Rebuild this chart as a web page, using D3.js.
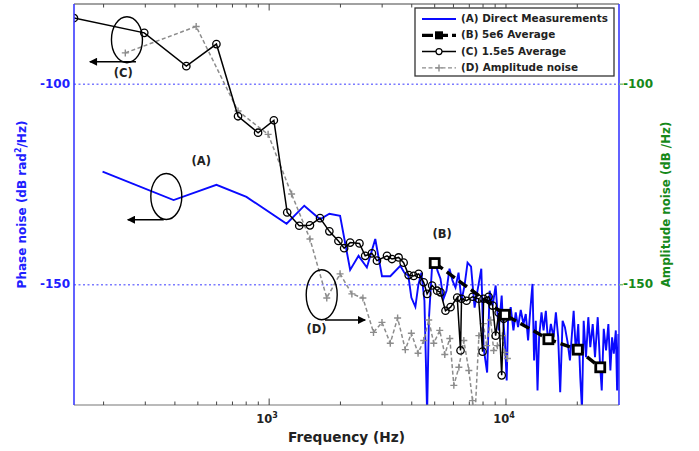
<!DOCTYPE html>
<html lang="en">
<head>
<meta charset="UTF-8">
<script src="https://d3js.org/d3.v7.min.js"></script>
<style>
    body { margin: 0; background: #fff; }
    svg { display: block; font-family: "DejaVu Sans", sans-serif; font-weight: bold; }
</style>
</head>
<body>
<div id="chart"></div>
<script>
// (A) direct measurements: [frequency Hz, phase noise dB rad^2/Hz]
const directMeas = [
    [198,-121.8],[395,-128.9],[599,-125.1],[802,-128.1],[1185,-134.8],[1407,-130.3],
    [1640,-133.7],[1796,-132.3],[1993,-132.8],[2198,-146.3],[2385,-142.8],[2586,-145.7],
    [2806,-138.6],[2995,-147.9],[3247,-147.9],[3579,-145.3],[3722,-147.0],[3870,-147.8],
    [3985,-153.2],[4144,-155.5],[4267,-150.0],[4394,-147.0],[4525,-154.0],[4645,-182],
    [4727,-158.5],[4867,-146.0],[5003,-143.5],[5136,-146.5],[5289,-148.5],[5445,-153.5],
    [5607,-151.5],[5774,-146.0],[5946,-149.0],[6121,-150.7],[6304,-147.0],[6491,-154.0],
    [6683,-150.2],[6882,-144.5],[7120,-145.5],[7369,-155.7],[7866,-146.0],[8043,-165.7],
    [8324,-171.9],[8530,-151.5],[8782,-155.2],[9043,-150.2],[9313,-161.4],[9590,-152.7],
    [9654,-156.5],[9874,-163.1],[10069,-173.9],[10197,-159.0],[10469,-155.6],[10750,-161.4],
    [10993,-156.9],[11243,-160.6],[11543,-156.3],[11851,-159.8],[12120,-157.3],[12397,-163.9],
    [12641,-156.9],[12938,-149.8],[13140,-168.9],[13360,-159.0],[13586,-176.4],[13800,-163.1],
    [14125,-156.9],[14405,-161.4],[14731,-156.5],[15066,-164.8],[15468,-159.8],[15880,-163.1],
    [16242,-156.9],[16609,-163.1],[16937,-176.8],[17338,-159.0],[17732,-160.6],[18205,-164.4],
    [18620,-168.9],[18987,-162.3],[19305,-156.5],[19735,-167.2],[20186,-159.8],[20585,-173.1],
    [20930,-181],[21281,-159.0],[21763,-168.1],[22259,-158.1],[22695,-165.6],[23234,-159.8],
    [23759,-168.1],[24396,-158.1],[24946,-169.7],[25365,-176.4],[25866,-161.0],[26454,-166.4],
    [27055,-159.8],[27589,-171.4],[28052,-163.1],[28521,-167.2],[29085,-161.4],[29453,-176.4],
    [29828,-162.3],[30300,-181]
];

// (B) 5e6 average
const avg5e6 = [[5000,-144.6],[9900,-157.5],[15100,-163.6],[20100,-166.2],[25000,-170.6]];

// (C) 1.5e5 average
const avg15e5 = [
    [150,-83.5],[297,-87.2],[447,-95.5],[599,-90.0],[739,-108.0],[898,-112.1],[1047,-109.0],
    [1192,-132.0],[1340,-135.3],[1487,-135.2],[1640,-133.4],[1796,-136.7],[1961,-139.1],
    [2073,-140.9],[2198,-139.5],[2406,-139.7],[2544,-142.8],[2716,-142.2],[2852,-144.0],
    [3145,-142.8],[3301,-143.6],[3521,-143.2],[3697,-144.5],[3882,-147.6],[4076,-147.8],
    [4279,-147.3],[4493,-149.4],[4645,-152.3],[4876,-150.2],[5121,-151.5],[5289,-151.9],
    [5553,-156.5],[5832,-155.6],[6225,-153.2],[6427,-166.4],[6491,-153.5],[6815,-154.0],
    [7225,-153.0],[7662,-153.5],[7965,-166.7],[8043,-153.5],[8446,-153.0],[8782,-155.2],
    [9043,-162.7],[9313,-157.0],[9590,-172.6],[9779,-158.5]
];

// (D) amplitude noise, dB/Hz
const ampNoise = [
    [247,-92.2],[492,-85.6],[739,-106.7],[990,-112.5],[1244,-127.4],[1487,-138.6],[1751,-153.3],
    [1993,-147.3],[2235,-152.3],[2488,-153.3],[2758,-161.9],[2995,-159.4],[3247,-164.6],
    [3487,-158.3],[3758,-166.2],[3985,-162.1],[4254,-167.1],[4493,-163.9],[4718,-158.8],
    [4954,-164.6],[5252,-161.4],[5515,-167.4],[5792,-163.4],[6022,-175.1],[6324,-170.6],
    [6637,-163.9],[6968,-171.4],[7225,-178.9],[7369,-185],[7684,-162.7],[8020,-159.7],
    [8284,-165.2],[8615,-158.8],[8871,-166.4],[9196,-165.2],[9654,-162.7],[9874,-166.9],
    [10137,-168.4]
];

const majorTicks = [1000, 10000];
const majorLabels = ["3", "4"];
const minorTicks = [200,300,400,500,600,700,800,900,2000,3000,4000,5000,6000,7000,8000,9000,20000];
const yTicks = [-100, -150];
const legendLabels = ["(A) Direct Measurements", "(B) 5e6 Average", "(C) 1.5e5 Average", "(D) Amplitude noise"];

// callouts: ellipse centre, arrow from/to, label position (in Hz / dB)
const callouts = [
    {label: "(C)", cx: 251, cy: -88.9, ry: 23, ax0: 274, ax1: 175, ay: -94.4, lx: 242, ly: -97.3},
    {label: "(A)", cx: 368, cy: -128.0, ry: 23, ax0: 359, ax1: 253, ay: -133.8, lx: 517, ly: -119.4},
    {label: "(D)", cx: 1667, cy: -152.5, ry: 25, ax0: 1722, ax1: 2544, ay: -158.8, lx: 1585, ly: -161.2}
];
const labelB = {text: "(B)", f: 5377, v: -137.4};

const W = 699, H = 451;
const margin = {top: 4, right: 80, bottom: 46, left: 74};
const width = W - margin.left - margin.right;
const height = H - margin.top - margin.bottom;

const svg = d3.select("#chart").append("svg")
    .attr("width", W)
    .attr("height", H);

const defs = svg.append("defs");
defs.append("clipPath").attr("id", "plotclip")
    .append("rect").attr("width", width).attr("height", height);
defs.append("marker").attr("id", "arrowhead")
    .attr("viewBox", "0 0 10 10").attr("refX", 9).attr("refY", 5)
    .attr("markerWidth", 10).attr("markerHeight", 8).attr("markerUnits", "userSpaceOnUse")
    .attr("orient", "auto")
    .append("path").attr("d", "M0,0L10,5L0,10Z").attr("fill", "#000");

const g = svg.append("g").attr("transform", `translate(${margin.left},${margin.top})`);

const x = d3.scaleLog().domain([150, 30000]).range([0, width]);
const y = d3.scaleLinear().domain([-180, -80]).range([height, 0]);

// grid
g.selectAll(".grid").data(yTicks).enter().append("line")
    .attr("x1", 0).attr("x2", width)
    .attr("y1", d => y(d)).attr("y2", d => y(d))
    .attr("stroke", "#7b7bff").attr("stroke-width", 1.5).attr("stroke-dasharray", "2,2.5");

const line = d3.line().x(d => x(d[0])).y(d => y(d[1]));
const plot = g.append("g").attr("clip-path", "url(#plotclip)");

// (A)
plot.append("path").datum(directMeas)
    .attr("d", line).attr("fill", "none")
    .attr("stroke", "#0a0aff").attr("stroke-width", 1.9);

// (D)
plot.append("path").datum(ampNoise)
    .attr("d", line).attr("fill", "none")
    .attr("stroke", "#8c8c8c").attr("stroke-width", 1.5).attr("stroke-dasharray", "4,2.5");
plot.selectAll(".plus").data(ampNoise).enter().append("path")
    .attr("transform", d => `translate(${x(d[0])},${y(d[1])})`)
    .attr("d", "M-3.5,0H3.5M0,-3.5V3.5")
    .attr("stroke", "#8c8c8c").attr("stroke-width", 1.4);

// (C)
plot.append("path").datum(avg15e5)
    .attr("d", line).attr("fill", "none")
    .attr("stroke", "#000").attr("stroke-width", 1.5);
plot.selectAll(".circ").data(avg15e5).enter().append("circle")
    .attr("cx", d => x(d[0])).attr("cy", d => y(d[1])).attr("r", 3.7)
    .attr("fill", "none").attr("stroke", "#000").attr("stroke-width", 1.3);

// (B)
plot.append("path").datum(avg5e6)
    .attr("d", line).attr("fill", "none")
    .attr("stroke", "#000").attr("stroke-width", 3.4).attr("stroke-dasharray", "10,5");
plot.selectAll(".sq").data(avg5e6).enter().append("rect")
    .attr("x", d => x(d[0]) - 4.5).attr("y", d => y(d[1]) - 4.5)
    .attr("width", 9).attr("height", 9)
    .attr("fill", "#fff").attr("stroke", "#000").attr("stroke-width", 2.8);

// callouts
callouts.forEach(c => {
    g.append("ellipse")
        .attr("cx", x(c.cx)).attr("cy", y(c.cy)).attr("rx", 15.5).attr("ry", c.ry)
        .attr("fill", "none").attr("stroke", "#000").attr("stroke-width", 1.4);
    g.append("line")
        .attr("x1", x(c.ax0)).attr("x2", x(c.ax1))
        .attr("y1", y(c.ay)).attr("y2", y(c.ay))
        .attr("stroke", "#000").attr("stroke-width", 1.4)
        .attr("marker-end", "url(#arrowhead)");
    g.append("text")
        .attr("x", x(c.lx)).attr("y", y(c.ly))
        .attr("text-anchor", "middle").attr("dominant-baseline", "middle")
        .attr("font-size", "11.5px").attr("fill", "#222")
        .text(c.label);
});
g.append("text")
    .attr("x", x(labelB.f)).attr("y", y(labelB.v))
    .attr("text-anchor", "middle").attr("dominant-baseline", "middle")
    .attr("font-size", "11.5px").attr("fill", "#222")
    .text(labelB.text);

// frame
g.append("line").attr("x1", 0).attr("x2", width).attr("y1", 0).attr("y2", 0)
    .attr("stroke", "#444").attr("stroke-width", 1.2);
g.append("line").attr("x1", 0).attr("x2", width).attr("y1", height).attr("y2", height)
    .attr("stroke", "#777").attr("stroke-width", 1.2);
g.append("line").attr("x1", 0).attr("x2", 0).attr("y1", 0).attr("y2", height)
    .attr("stroke", "#3a3aff").attr("stroke-width", 1.6);
g.append("line").attr("x1", width).attr("x2", width).attr("y1", 0).attr("y2", height)
    .attr("stroke", "#3a3aff").attr("stroke-width", 1.6);

// x ticks (inward, top and bottom)
[0, height].forEach(base => {
    const dir = base === 0 ? 1 : -1;
    g.selectAll(null).data(minorTicks).enter().append("line")
        .attr("x1", d => x(d)).attr("x2", d => x(d))
        .attr("y1", base).attr("y2", base + dir * 3.5)
        .attr("stroke", "#444").attr("stroke-width", 1);
    g.selectAll(null).data(majorTicks).enter().append("line")
        .attr("x1", d => x(d)).attr("x2", d => x(d))
        .attr("y1", base).attr("y2", base + dir * 6.5)
        .attr("stroke", "#444").attr("stroke-width", 1);
});

const xl = g.selectAll(".xlab").data(majorTicks).enter().append("text")
    .attr("x", d => x(d) - 2).attr("y", height + 18)
    .attr("text-anchor", "middle").attr("font-size", "11.5px").attr("fill", "#222");
xl.append("tspan").text("10");
xl.append("tspan").attr("dy", -5).attr("font-size", "8px").text((d, i) => majorLabels[i]);

// left y tick labels
g.selectAll(".ylab").data(yTicks).enter().append("text")
    .attr("x", -4).attr("y", d => y(d))
    .attr("text-anchor", "end").attr("dominant-baseline", "middle")
    .attr("font-size", "12px").attr("fill", "#2020ff")
    .text(d => d);

// right y ticks (green)
g.selectAll(".rtick").data(yTicks).enter().append("line")
    .attr("x1", width).attr("x2", width + 4)
    .attr("y1", d => y(d)).attr("y2", d => y(d))
    .attr("stroke", "#7fbf7f").attr("stroke-width", 1.5);
g.selectAll(".rlab").data(yTicks).enter().append("text")
    .attr("x", width + 4).attr("y", d => y(d))
    .attr("text-anchor", "start").attr("dominant-baseline", "middle")
    .attr("font-size", "12px").attr("fill", "#16891a")
    .text(d => d);

// axis titles
g.append("text")
    .attr("x", width / 2 - 0).attr("y", height + 37)
    .attr("text-anchor", "middle").attr("font-size", "13.7px").attr("fill", "#222")
    .text("Frequency (Hz)");

const yt = g.append("text")
    .attr("transform", `translate(${-48},${height / 2}) rotate(-90)`)
    .attr("text-anchor", "middle").attr("font-size", "12px").attr("fill", "#2020ff");
yt.append("tspan").text("Phase noise (dB rad");
yt.append("tspan").attr("dy", -5).attr("font-size", "8px").text("2");
yt.append("tspan").attr("dy", 5).text("/Hz)");

g.append("text")
    .attr("transform", `translate(${width + 51},${height / 2}) rotate(-90)`)
    .attr("text-anchor", "middle").attr("font-size", "11.8px").attr("fill", "#16891a")
    .text("Amplitude noise (dB /Hz)");

// legend
const lg = svg.append("g").attr("transform", "translate(415,8)");
lg.append("rect").attr("width", 199).attr("height", 68)
    .attr("fill", "#fff").attr("stroke", "#333").attr("stroke-width", 1.3);
const rowY = i => 11 + i * 16.3;
lg.selectAll(".lt").data(legendLabels).enter().append("text")
    .attr("x", 46).attr("y", (d, i) => rowY(i))
    .attr("dominant-baseline", "middle").attr("font-size", "10.4px").attr("fill", "#222")
    .text(d => d);
// A
lg.append("line").attr("x1", 7).attr("x2", 41).attr("y1", rowY(0)).attr("y2", rowY(0))
    .attr("stroke", "#0a0aff").attr("stroke-width", 1.8);
// B
lg.append("line").attr("x1", 7).attr("x2", 41).attr("y1", rowY(1)).attr("y2", rowY(1))
    .attr("stroke", "#000").attr("stroke-width", 3.2).attr("stroke-dasharray", "11,4");
lg.append("rect").attr("x", 20).attr("y", rowY(1) - 4).attr("width", 8).attr("height", 8).attr("fill", "#000");
// C
lg.append("line").attr("x1", 7).attr("x2", 41).attr("y1", rowY(2)).attr("y2", rowY(2))
    .attr("stroke", "#000").attr("stroke-width", 1.5);
lg.append("circle").attr("cx", 24).attr("cy", rowY(2)).attr("r", 3)
    .attr("fill", "#fff").attr("stroke", "#000").attr("stroke-width", 1.2);
// D
lg.append("line").attr("x1", 7).attr("x2", 41).attr("y1", rowY(3)).attr("y2", rowY(3))
    .attr("stroke", "#8c8c8c").attr("stroke-width", 1.4).attr("stroke-dasharray", "4,2.5");
lg.append("path").attr("transform", `translate(24,${rowY(3)})`)
    .attr("d", "M-3.5,0H3.5M0,-3.5V3.5").attr("stroke", "#8c8c8c").attr("stroke-width", 1.4);
</script>
</body>
</html>
